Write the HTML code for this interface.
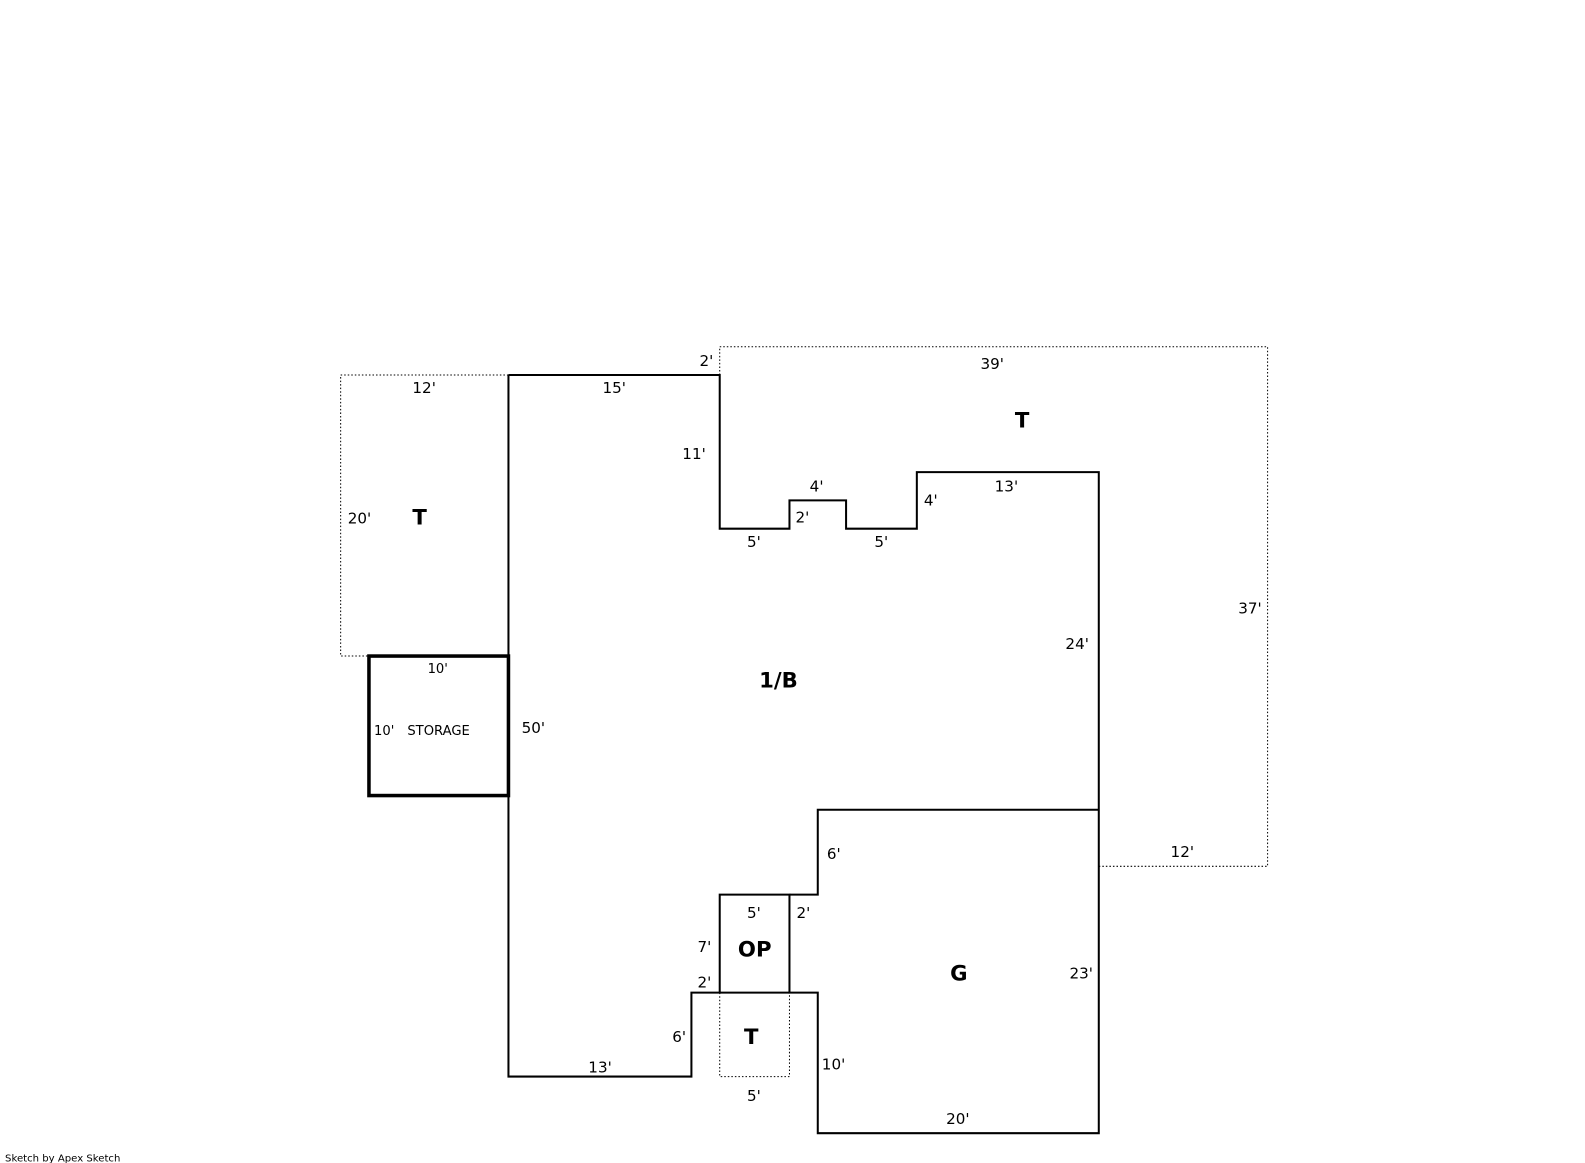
<!DOCTYPE html>
<html><head><meta charset="utf-8"><style>
html,body{margin:0;padding:0;background:#fff;}
svg{display:block;}
text{font-family:"DejaVu Sans","Liberation Sans",sans-serif;fill:#000;}
.d{font-size:15px;}
.b{font-size:21px;font-weight:bold;}
</style></head><body>
<svg width="1585" height="1163" viewBox="0 0 1568 1150.5" preserveAspectRatio="none" xmlns="http://www.w3.org/2000/svg">
<g fill="none" stroke="#000" stroke-width="1" stroke-dasharray="1.5,2">
<polyline points="503,371 337,371 337,649 365,649"/>
<polyline points="712,371 712,343 1254,343 1254,857 1087,857"/>
<polyline points="712,982 712,1065 781,1065 781,982"/>
</g>
<g fill="none" stroke="#000" stroke-width="2">
<polyline points="503,371 712,371 712,523 781,523 781,495 837,495 837,523 907,523 907,467 1087,467 1087,1121 809,1121 809,982 781,982 781,885 712,885 712,982 684,982 684,1065 503,1065 503,371"/>
<polyline points="781,885 809,885 809,801 1087,801"/>
<line x1="712" y1="982" x2="781" y2="982"/>
</g>
<rect x="365" y="649" width="138" height="138" fill="none" stroke="#000" stroke-width="3.5"/>
<g class="d">
<text x="408" y="389">12'</text>
<text x="596" y="389">15'</text>
<text x="692" y="362">2'</text>
<text x="970" y="365">39'</text>
<text x="675" y="454">11'</text>
<text x="801" y="486">4'</text>
<text x="787" y="517">2'</text>
<text x="739" y="541">5'</text>
<text x="865" y="541">5'</text>
<text x="914" y="500">4'</text>
<text x="984" y="486">13'</text>
<text x="344" y="518">20'</text>
<text x="1225" y="607">37'</text>
<text x="1054" y="642">24'</text>
<text x="516" y="725">50'</text>
<text x="818" y="850">6'</text>
<text x="1158" y="848">12'</text>
<text x="739" y="908">5'</text>
<text x="788" y="908">2'</text>
<text x="690" y="942">7'</text>
<text x="690" y="977">2'</text>
<text x="1058" y="968">23'</text>
<text x="665" y="1031">6'</text>
<text x="582" y="1061">13'</text>
<text x="813" y="1058">10'</text>
<text x="739" y="1089">5'</text>
<text x="936" y="1112">20'</text>
</g>
<g style="font-size:13px">
<text x="423" y="666">10'</text>
<text x="370" y="727">10'</text>
<text x="403" y="727">STORAGE</text>
</g>
<g class="b">
<text x="408" y="519">T</text>
<text x="1004" y="423">T</text>
<text x="751" y="680">1/B</text>
<text x="730" y="946">OP</text>
<text x="940" y="970">G</text>
<text x="736" y="1033">T</text>
</g>
<text x="5" y="1149" style="font-size:10px">Sketch by Apex Sketch</text>
</svg>
</body></html>
